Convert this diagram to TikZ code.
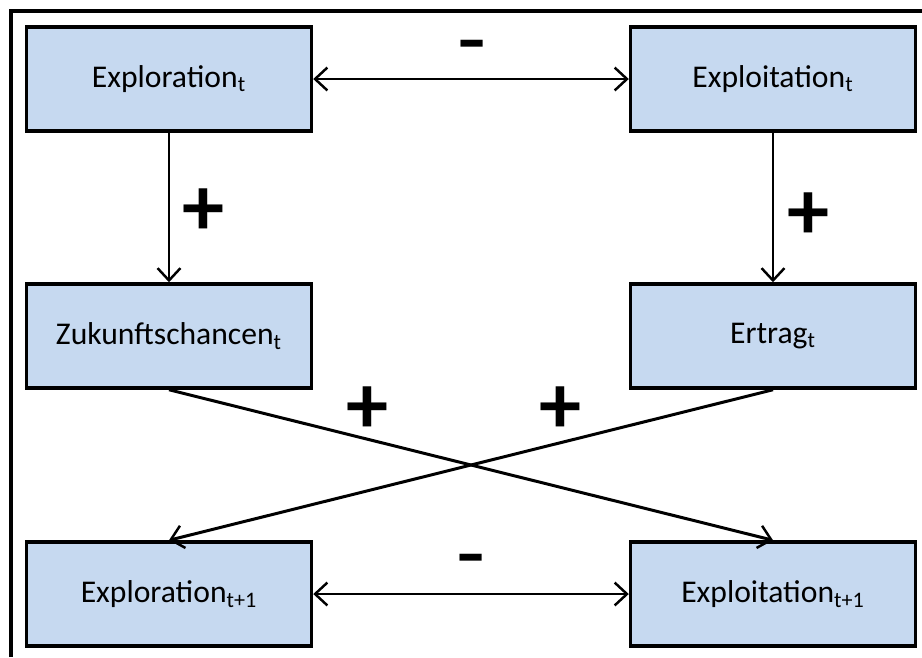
\documentclass[tikz,border=0pt]{standalone}
\usepackage{fontspec}
\setmainfont{Carlito}
\usetikzlibrary{arrows.meta}
\definecolor{boxblue}{RGB}{198,217,240}
\tikzset{
  box/.style={draw, line width=2pt, fill=boxblue, minimum width=5.7cm, minimum height=2.08cm, inner sep=0pt, font=\fontsize{18}{21}\selectfont},
  link/.style={line width=1.4pt, -{Straight Barb[length=7pt,width=13pt,line width=1.4pt]}},
  twolink/.style={line width=1.4pt, {Straight Barb[length=7pt,width=13pt,line width=1.4pt]}-{Straight Barb[length=7pt,width=13pt,line width=1.4pt]}},
  sign/.style={font=\fontsize{48}{48}\bfseries\selectfont, inner sep=0pt},
  minussign/.style={font=\fontsize{54}{54}\selectfont, inner sep=0pt}
}
\begin{document}
\begin{tikzpicture}[x=0.02cm,y=-0.02cm]
\useasboundingbox (0,0) rectangle (922,657);
% draw frame
\draw[line width=2pt] (11,657) -- (11,11) -- (922,11);
% draw boxes at time t
\node[box] (explor) at (169,79) {Exploration\textsubscript{t}};
\node[box] (exploi) at (773,79) {Exploitation\textsubscript{t}};
\node[box] (chance) at (169,336) {Zukunftschancen\textsubscript{t}};
\node[box] (ertrag) at (773,336) {Ertrag\textsubscript{t}};
% draw boxes at time t+1
\node[box] (explornext) at (169,594) {Exploration\textsubscript{t+1}};
\node[box] (exploinext) at (773,594) {Exploitation\textsubscript{t+1}};
% draw arrows
\draw[twolink] (explor.east) -- (exploi.west);
\draw[link] (explor) -- (chance);
\draw[link] (exploi) -- (ertrag);
\draw[link, line width=1.7pt] (chance.south) -- (exploinext.north);
\draw[link, line width=1.7pt] (ertrag.south) -- (explornext.north);
\draw[twolink] (explornext.east) -- (exploinext.west);
% draw signs
\node[minussign] (minustop) at (472,55) {-};
\node[sign] (plusleft) at (203,212) {+};
\node[sign] (plusright) at (808,216) {+};
\node[sign] (pluscrossa) at (367,410) {+};
\node[sign] (pluscrossb) at (560,410) {+};
\node[minussign] (minusbottom) at (471,569) {-};
\end{tikzpicture}
\end{document}
